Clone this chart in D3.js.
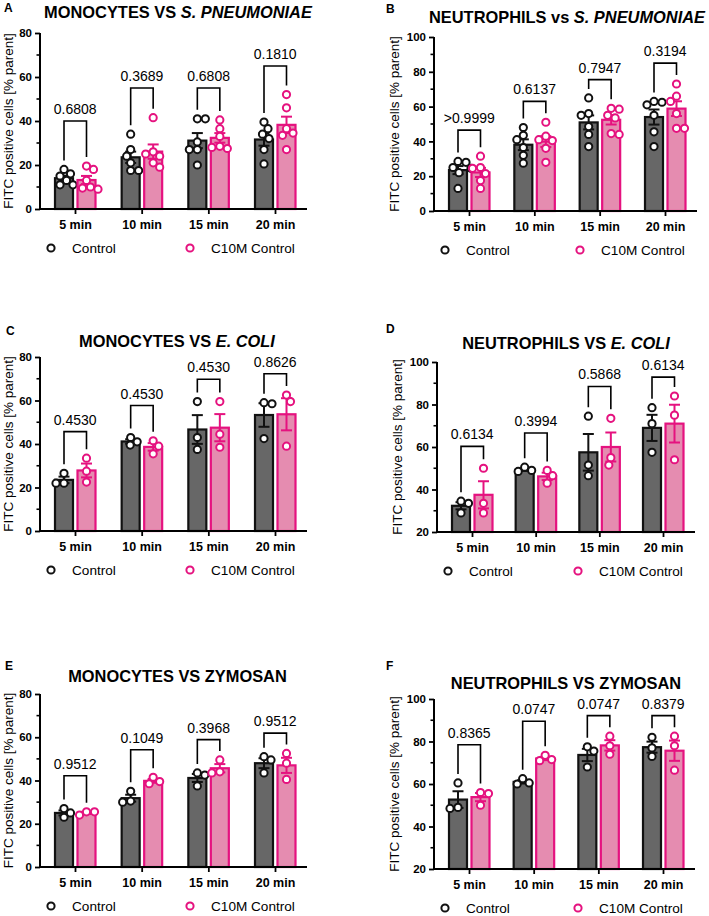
<!DOCTYPE html>
<html><head><meta charset="utf-8">
<script src="https://cdn.jsdelivr.net/npm/d3@7"></script>
<style>
html,body{margin:0;padding:0;background:#fff;}
svg{display:block;font-family:"Liberation Sans",Arial,Helvetica,sans-serif;}
</style>
</head><body>
<svg id="chart" width="709" height="916"></svg>
<script>
// ---------- DATA ----------
const categories = ["5 min", "10 min", "15 min", "20 min"];
const seriesNames = ["Control", "C10M Control"];

// A: Monocytes vs S. pneumoniae
const monoSpnControl = [[18,16,15,13,11,11],[34,27,24,21,17.5,17.5],[41,41,30.5,27,27,20],[39.5,36.5,34,32,27,20.5]];
const monoSpnC10M    = [[19.5,18,13,10,9.5,9],[41.5,26,25,24,21,19],[40.5,36.5,33,28.5,28,27.5],[52,46,36.5,34.5,33.5,27]];
const pA = ["0.6808","0.3689","0.6808","0.1810"];
const bracketA = [40, 55, 55, 65];

// B: Neutrophils vs S. pneumoniae
const neutSpnControl = [[28.5,28,25,24.5,22,13],[48,43.5,41,36.5,32,27.5],[65,56,55,48.5,44,37],[63,62.5,61,55,45.5,37]];
const neutSpnC10M    = [[31.5,25,24.5,21.5,17.5,13],[51,43,41,40.5,36,28],[59,58.5,55,53.5,44.5,44],[73,66,63,56,47.5,47.5]];
const pB = [">0.9999","0.6137","0.7947","0.3194"];
const bracketB = [46.5, 63, 75.5, 85];

// C: Monocytes vs E. coli
const monoEcoControl = [[26.5,22,22],[43,41,39.5],[59.5,43,37.5],[59,58.5,42.5]];
const monoEcoC10M    = [[33.5,27.5,22.5],[41.5,39,35.5],[59.5,44.5,38.5],[62.5,59.5,39]];
const pC = ["0.4530","0.4530","0.4530","0.8626"];
const bracketC = [45.7, 57.7, 69.8, 72.3];

// D: Neutrophils vs E. coli
const neutEcoControl = [[34.5,33.5,29],[50.5,49,48.5],[74.5,51.5,46.5],[78.5,71,57.5]];
const neutEcoC10M    = [[50,33.5,29],[49,46.5,43],[73.5,55,51.5],[84,75,54]];
const pD = ["0.6134","0.3994","0.5868","0.6134"];
const bracketD = [60.3, 66.6, 88.5, 92.9];

// E: Monocytes vs Zymosan
const monoZymControl = [[27,25,23],[35,30.5,30],[43.5,42.5,37.5],[51,49.5,43.5]];
const monoZymC10M    = [[25.5,25.5,24],[41.5,39.5,38.5],[49.5,44,43.5],[52.5,48,40.5]];
const pE = ["0.9512","0.1049","0.3968","0.9512"];
const bracketE = [42.2, 54.2, 58.9, 61.9];

// F: Neutrophils vs Zymosan
const neutZymControl = [[60.5,49,48.5],[62.5,60.5,60],[77.5,75.5,68],[82,77,73]];
const neutZymC10M    = [[56,55.5,50],[73.5,71.5,71],[82.5,78,74],[82.5,78,66.5]];
const pF = ["0.8365","0.0747","0.0747","0.8379"];
const bracketF = [78.5, 89.5, 92.2, 92.2];

const ticksMono = [0, 20, 40, 60, 80];
const ticksNeutSpn = [0, 20, 40, 60, 80, 100];
const ticksNeut = [20, 40, 60, 80, 100];

const yLabel = "FITC positive cells [% parent]";

const panels = [
  {id:"A", title:["MONOCYTES VS ", "S. PNEUMONIAE"], control:monoSpnControl, treated:monoSpnC10M, p:pA, bracket:bracketA, ticks:ticksMono},
  {id:"B", title:["NEUTROPHILS vs ", "S. PNEUMONIAE"], control:neutSpnControl, treated:neutSpnC10M, p:pB, bracket:bracketB, ticks:ticksNeutSpn},
  {id:"C", title:["MONOCYTES VS ", "E. COLI"], control:monoEcoControl, treated:monoEcoC10M, p:pC, bracket:bracketC, ticks:ticksMono},
  {id:"D", title:["NEUTROPHILS VS ", "E. COLI"], control:neutEcoControl, treated:neutEcoC10M, p:pD, bracket:bracketD, ticks:ticksNeut},
  {id:"E", title:["MONOCYTES VS ZYMOSAN", ""], control:monoZymControl, treated:monoZymC10M, p:pE, bracket:bracketE, ticks:ticksMono},
  {id:"F", title:["NEUTROPHILS VS ZYMOSAN", ""], control:neutZymControl, treated:neutZymC10M, p:pF, bracket:bracketF, ticks:ticksNeut}
];

// ---------- LAYOUT ----------
const layout = {
  A:{x0:40,  x1:307, yTop:33,  yBot:209, titleX:178, titleY:18,  letterX:4,   letterY:12},
  B:{x0:434, x1:697, yTop:37,  yBot:211, titleX:567, titleY:23,  letterX:386, letterY:13},
  C:{x0:40,  x1:307, yTop:357, yBot:531, titleX:177, titleY:347, letterX:6,   letterY:335},
  D:{x0:437, x1:695, yTop:362, yBot:532, titleX:566, titleY:349, letterX:386, letterY:333},
  E:{x0:40,  x1:307, yTop:694, yBot:867, titleX:177.5, titleY:682, letterX:5, letterY:670},
  F:{x0:434, x1:695, yTop:699, yBot:869, titleX:566, titleY:689, letterX:386, letterY:670}
};

const colors = {
  controlFill:"#676767", controlStroke:"#111111",
  treatFill:"#e58cb0", treatStroke:"#e5127f"
};

const svg = d3.select("#chart");

function stats(v){
  const m = d3.mean(v), sd = d3.deviation(v);
  return {mean:m, sem: sd/Math.sqrt(v.length)};
}

function swarm(vals, y, dist){
  const pts = vals.map(v => ({v, y:y(v)})).sort((a,b)=>a.y-b.y);
  const placed = [];
  pts.forEach((p,i) => {
    let best = null;
    for (let k=0; k<=60 && best===null; k++){
      const c = k===0 ? [0] : (placed.length%2 ? [k*0.5, -k*0.5] : [-k*0.5, k*0.5]);
      for (const dx of c){
        if (placed.every(q => Math.hypot(q.dx-dx, q.y-p.y) >= dist)){ best = dx; break; }
      }
    }
    p.dx = best; placed.push(p);
  });
  return pts;
}

panels.forEach(P => {
  const L = layout[P.id];
  const g = svg.append("g");
  const dom = [P.ticks[0], P.ticks[P.ticks.length-1]];
  const y = d3.scaleLinear().domain(dom).range([L.yBot, L.yTop]);
  const x = d3.scalePoint().domain(categories).range([L.x0+35, L.x1-32]);

  // panel letter
  g.append("text").attr("x", L.letterX).attr("y", L.letterY)
    .attr("font-size", 12).attr("font-weight", "bold").text(P.id);

  // title
  const t = g.append("text").attr("x", L.titleX).attr("y", L.titleY)
    .attr("text-anchor","middle").attr("font-size",16.4).attr("font-weight","bold");
  t.append("tspan").text(P.title[0]);
  if (P.title[1]) t.append("tspan").attr("font-style","italic").text(P.title[1]);

  // y axis
  const minor = d3.range(dom[0]+10, dom[1], 20);
  const yAxis = d3.axisLeft(y).tickValues(P.ticks).tickSize(5).tickPadding(3).tickFormat(d3.format("d"));
  const ya = g.append("g").attr("transform", `translate(${L.x0},0)`).call(yAxis);
  ya.select(".domain").attr("stroke","#000").attr("stroke-width",2).attr("d", `M0,${L.yBot}V${L.yTop}`);
  ya.selectAll(".tick line").attr("stroke","#000").attr("stroke-width",1.8);
  ya.selectAll(".tick text").attr("font-size",11.5).attr("font-weight","bold").attr("fill","#000")
    .attr("font-family","Liberation Sans, Arial, sans-serif");
  g.append("g").selectAll("line").data(minor).join("line")
    .attr("x1", L.x0-3.5).attr("x2", L.x0).attr("y1", d=>y(d)).attr("y2", d=>y(d))
    .attr("stroke","#000").attr("stroke-width",1.6);

  // y label
  const digits = String(dom[1]).length;
  const lx = L.x0 - (digits === 3 ? 35 : 27);
  g.append("text").attr("transform", `translate(${lx},${(L.yTop+L.yBot)/2}) rotate(-90)`)
    .attr("text-anchor","middle").attr("font-size",13.5).text(yLabel);

  // bars, error bars, dots
  const groups = [
    {data:P.control, off:-11, fill:colors.controlFill, stroke:colors.controlStroke},
    {data:P.treated, off:11.5, fill:colors.treatFill, stroke:colors.treatStroke}
  ];
  const bw = 18;
  groups.forEach(G => {
    const st = G.data.map(stats);
    const gg = g.append("g");
    gg.selectAll("rect").data(categories).join("rect")
      .attr("x", (c)=>x(c)+G.off-bw/2).attr("width", bw)
      .attr("y", (c,i)=>y(st[i].mean)).attr("height", (c,i)=>y(dom[0])-y(st[i].mean))
      .attr("fill", G.fill).attr("stroke", G.stroke).attr("stroke-width", 2.2);
    categories.forEach((c,i) => {
      const cx = x(c)+G.off, m = st[i].mean, s = st[i].sem;
      const yt = y(m+s), yb = y(Math.max(dom[0], m-s));
      gg.append("line").attr("x1",cx).attr("x2",cx).attr("y1",yt).attr("y2",yb)
        .attr("stroke",G.stroke).attr("stroke-width",2);
      [m+s, m-s].forEach(v => {
        if (v < dom[0]) return;
        gg.append("line").attr("x1",cx-5.5).attr("x2",cx+5.5).attr("y1",y(v)).attr("y2",y(v))
          .attr("stroke",G.stroke).attr("stroke-width",2);
      });
    });
    categories.forEach((c,i) => {
      const pts = swarm(G.data[i], y, 7.6);
      gg.append("g").selectAll("circle").data(pts).join("circle")
        .attr("cx", d=>x(c)+G.off+d.dx).attr("cy", d=>d.y).attr("r", 3.6)
        .attr("fill","#fff").attr("stroke",G.stroke).attr("stroke-width",2);
    });
  });

  // brackets + p values
  categories.forEach((c,i) => {
    const xl = x(c)+groups[0].off, xr = x(c)+groups[1].off;
    const top = y(P.bracket[i]);
    const legEnd = (G) => {
      const st = stats(G.data[i]);
      const hi = Math.max(d3.max(G.data[i]), st.mean+st.sem);
      return Math.max(top+6, y(hi)-9);
    };
    g.append("path")
      .attr("d", `M${xl},${legEnd(groups[0])}V${top}H${xr}V${legEnd(groups[1])}`)
      .attr("fill","none").attr("stroke","#000").attr("stroke-width",1.6);
    g.append("text").attr("x",(xl+xr)/2).attr("y",top-7).attr("text-anchor","middle")
      .attr("font-size",14).text(P.p[i]);
  });

  // x axis
  const xAxis = d3.axisBottom(x).tickSize(5).tickPadding(6);
  const xa = g.append("g").attr("transform", `translate(0,${L.yBot})`).call(xAxis);
  xa.select(".domain").attr("stroke","#000").attr("stroke-width",2).attr("d", `M${L.x0-1},0H${L.x1}`);
  xa.selectAll(".tick line").attr("stroke","#000").attr("stroke-width",1.8);
  xa.selectAll(".tick text").attr("font-size",12.5).attr("font-weight","bold").attr("fill","#000")
    .attr("font-family","Liberation Sans, Arial, sans-serif");

  // legend
  const ly = L.yBot + 39;
  const leg = [
    {name:seriesNames[0], cx:L.x0+11, tx:L.x0+32, stroke:colors.controlStroke},
    {name:seriesNames[1], cx:L.x1-117, tx:L.x1-96, stroke:colors.treatStroke}
  ];
  const lg = g.append("g");
  lg.selectAll("circle").data(leg).join("circle")
    .attr("cx", d=>d.cx).attr("cy", ly).attr("r", 3.6)
    .attr("fill","#fff").attr("stroke", d=>d.stroke).attr("stroke-width", 2);
  lg.selectAll("text").data(leg).join("text")
    .attr("x", d=>d.tx).attr("y", ly+4.6).attr("font-size", 13.6).text(d=>d.name);
});
</script>
</body></html>
